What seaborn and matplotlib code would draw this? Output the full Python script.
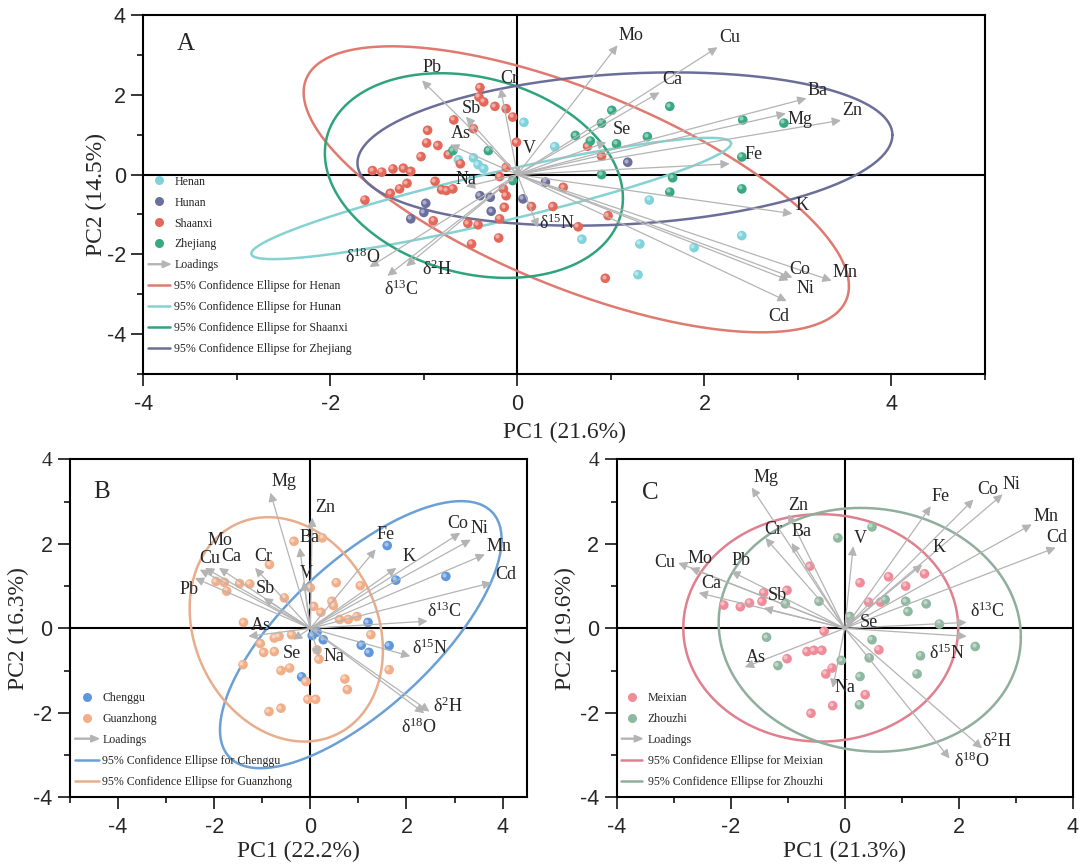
import numpy as np
import pandas as pd
import matplotlib
matplotlib.use('Agg')
import matplotlib.pyplot as plt
import matplotlib.patches as mpatches
import matplotlib.transforms as mtransforms
from matplotlib.lines import Line2D
from matplotlib.legend_handler import HandlerPatch
from matplotlib.ticker import MultipleLocator
import seaborn as sns

# ---------------- panel A : four provinces ----------------
henan_x = [0.07, 0.40, -0.63, -0.47, -0.42, -0.36, 1.41, 0.69, 1.31, 1.89, 2.40, 1.29]
henan_y = [1.31, 0.70, 0.37, 0.42, 0.25, 0.15, -0.64, -1.62, -1.74, -1.83, -1.53, -2.51]
hunan_x = [-0.98, -1.00, -1.14, -0.40, -0.29, -0.28, 0.06, 0.30, 1.18]
hunan_y = [-0.72, -0.95, -1.11, -0.53, -0.57, -0.92, -0.61, -0.19, 0.31]
shaanxi_x = [-0.40, -0.41, -0.36, -0.24, -0.12, -0.05, -0.68, -0.47, -0.96, -0.97, -0.85, -0.74,
             -1.03, -0.61, -0.01, -1.55, -1.45, -1.33, -1.22, -1.14, -1.18, -1.26, -1.36, -0.88,
             -0.81, -0.76, -0.69, -0.19, -0.12, -1.63, -0.15, -0.12, -0.14, -0.90, -0.53, -0.42,
             -0.19, -0.20, -0.49, 0.15, 0.38, 0.90, 0.75, 0.97, 0.94, 0.65, 0.49]
shaanxi_y = [2.18, 1.94, 1.82, 1.71, 1.65, 1.44, 1.37, 1.15, 1.11, 0.79, 0.73, 0.50,
             0.45, 0.27, 0.81, 0.10, 0.06, 0.14, 0.16, 0.08, -0.22, -0.36, -0.47, -0.17,
             -0.38, -0.40, -0.36, -0.05, 0.18, -0.64, -0.36, -0.53, -0.82, -1.16, -1.22, -1.26,
             -1.11, -1.59, -1.74, -0.80, -0.80, 0.46, 0.71, -1.03, -2.60, -1.31, -0.32]
zhejiang_x = [1.01, 1.63, 0.90, 0.62, 0.78, 1.06, 1.39, 2.41, 2.85, 2.40, 0.90, 1.66, 1.63, 2.40,
              -0.05, -0.69, -0.31]
zhejiang_y = [1.61, 1.71, 1.29, 0.98, 0.84, 0.77, 0.95, 1.37, 1.29, 0.44, 0.00, -0.08, -0.44, -0.36,
              -0.15, 0.60, 0.60]

load_a = ['Pb', 'Cr', 'Sb', 'As', 'Na', 'V', 'd18O', 'd13C', 'd2H', 'd15N', 'Mo', 'Cu',
          'Ca', 'Ba', 'Mg', 'Zn', 'Se', 'Fe', 'K', 'Co', 'Ni', 'Mn', 'Cd']
load_a_x = [-1.02, -0.18, -0.55, -0.72, -0.55, 0.02, -1.58, -1.39, -1.19, 0.22, 1.07, 2.14,
            1.52, 3.09, 2.87, 3.46, 0.95, 2.27, 2.94, 2.94, 2.90, 3.36, 2.88]
load_a_y = [2.36, 2.16, 1.45, 0.75, -0.30, 0.23, -2.32, -2.54, -2.30, -1.33, 3.24, 3.19,
            2.06, 1.91, 1.53, 1.36, 0.81, 0.27, -0.98, -2.58, -2.65, -2.66, -3.17]

# ellipses: centre x, centre y, var x, var y, cov xy
henan_ell = (0.63, -0.37, 8.50, 12.85, -7.08)
hunan_ell = (-0.28, -0.60, 6.58, 2.31, 3.54)
shaanxi_ell = (-0.465, -0.025, 2.54, 6.58, -0.90)
zhejiang_ell = (1.15, 0.64, 8.18, 3.69, 1.00)

# ---------------- panel B : Chenggu / Guanzhong ----------------
chenggu_x = [1.60, 1.78, 2.82, 1.20, 1.64, 1.06, 1.22, 0.27, 0.14, 0.04, -0.18]
chenggu_y = [1.96, 1.14, 1.23, 0.14, -0.41, -0.40, -0.57, -0.27, -0.09, -0.17, -1.15]
guanzhong_x = [-0.34, 0.25, -0.85, 0.00, 0.54, 1.04, 0.07, 0.22, 0.45, 0.48, 0.61, 0.79, 0.97,
               1.26, 1.64, 0.72, 0.77, -1.39, -1.04, -0.97, -0.75, -0.65, -0.39, -1.40, -0.61,
               -0.43, 0.14, 0.18, -0.09, -0.05, 0.11, -0.86, -0.61, -1.96, -1.79, -1.74, -1.47,
               -1.26, -0.54, -0.75]
guanzhong_y = [2.06, 2.14, 1.51, 0.96, 1.08, 1.01, 0.52, 0.38, 0.64, 0.54, 0.21, 0.21, 0.28,
               -0.15, -0.98, -1.20, -1.45, 0.14, -0.36, -0.57, -0.55, -0.19, -0.15, -0.86, -1.00,
               -0.94, -0.51, -0.73, -1.26, -1.68, -1.68, -1.97, -1.89, 1.11, 1.09, 0.88, 1.06,
               1.05, 0.72, -0.23]

load_b = ['Mg', 'Zn', 'Ba', 'V', 'Mo', 'Cu', 'Ca', 'Cr', 'Pb', 'Sb', 'As', 'Se', 'Na',
          'Fe', 'K', 'Co', 'Ni', 'Mn', 'Cd', 'd13C', 'd15N', 'd2H', 'd18O']
load_b_x = [-0.83, 0.04, -0.22, -0.14, -2.19, -2.30, -1.90, -1.15, -2.40, -0.97, -1.29, -0.36, 0.18,
            1.36, 1.79, 3.12, 3.34, 3.63, 3.77, 2.44, 2.08, 2.48, 2.37]
load_b_y = [3.21, 2.62, 1.91, 1.11, 1.43, 1.39, 1.43, 1.43, 1.19, 0.72, -0.19, -0.27, -0.66,
            1.87, 1.43, 2.26, 2.10, 1.75, 1.08, 0.17, -0.66, -1.97, -2.01]

chenggu_ell = (1.05, -0.15, 8.58, 9.99, 6.60)
guanzhong_ell = (-0.50, -0.025, 4.04, 7.05, -1.00)

# ---------------- panel C : Meixian / Zhouzhi ----------------
meixian_x = [-0.61, 0.27, 0.77, 1.07, 1.40, 0.42, 0.63, -1.01, -1.42, -1.45, -1.67, -1.83, -2.12,
             -0.36, -0.66, -0.54, -0.40, -1.01, -0.33, -0.22, 0.60, 0.36, -0.21, -0.59]
meixian_y = [1.47, 1.08, 1.22, 1.00, 1.29, 0.62, 0.62, 0.90, 0.84, 0.64, 0.60, 0.51, 0.55,
             -0.07, -0.55, -0.52, -0.52, -0.72, -1.08, -0.94, -0.51, -1.57, -1.83, -2.01]
zhouzhi_x = [0.48, -0.12, -0.45, -1.04, 0.71, 1.07, 1.11, 1.43, 0.09, 1.66, 2.29, 1.33, 1.27,
             0.48, 0.43, 0.27, 0.26, -0.06, -1.37, -1.17]
zhouzhi_y = [2.40, 2.14, 0.64, 0.58, 0.68, 0.64, 0.40, 0.58, 0.28, 0.10, -0.43, -0.65, -1.08,
             -0.27, -0.70, -1.14, -1.81, -0.76, -0.21, -0.88]

load_c = ['Mg', 'Zn', 'Cr', 'Ba', 'Cu', 'Mo', 'Pb', 'Ca', 'Sb', 'As', 'V', 'Se', 'Na',
          'Fe', 'Co', 'Ni', 'K', 'Mn', 'Cd', 'd13C', 'd15N', 'd2H', 'd18O']
load_c_x = [-1.63, -0.99, -1.39, -0.93, -2.92, -2.71, -1.99, -2.56, -1.42, -1.75, 0.15, 0.15, -0.21,
            1.51, 2.26, 2.77, 1.36, 3.28, 3.70, 2.14, 2.14, 2.41, 1.84]
load_c_y = [3.33, 2.70, 2.14, 2.02, 1.55, 1.43, 1.35, 0.84, 0.48, -0.92, 1.94, 0.28, -1.41,
            2.89, 3.05, 3.17, 1.51, 2.46, 1.91, 0.14, -0.19, -2.84, -3.08]

meixian_ell = (-0.42, 0.01, 5.81, 7.24, 0.00)
zhouzhi_ell = (0.44, -0.035, 7.02, 8.32, -0.45)

# label offsets (points) from the arrow tips
off_a = {'Pb': (7, 9), 'Cr': (6, 7), 'Sb': (4, 6), 'As': (8, 8), 'Na': (0, 5), 'V': (7, 12),
         'd18O': (-5, 7), 'd13C': (10, -10), 'd2H': (22, -2), 'd15N': (14, 3), 'Mo': (10, 7),
         'Cu': (9, 7), 'Ca': (9, 9), 'Ba': (8, 6), 'Mg': (10, -4), 'Zn': (8, 7), 'Se': (11, 9),
         'Fe': (17, 7), 'K': (7, 6), 'Co': (5, 6), 'Ni': (12, -6), 'Mn': (10, 6), 'Cd': (-6, -11)}
off_b = {'Mg': (10, 8), 'Zn': (9, 7), 'Ba': (7, 7), 'V': (2, 6), 'Mo': (11, 20), 'Cu': (7, 8),
         'Ca': (9, 8), 'Cr': (6, 8), 'Pb': (-4, -8), 'Sb': (1, 7), 'As': (9, 8), 'Se': (-1, -10),
         'Na': (11, 0), 'Fe': (7, 11), 'K': (9, 8), 'Co': (-2, 7), 'Ni': (6, 8), 'Mn': (10, 6),
         'Cd': (10, 6), 'd13C': (12, 7), 'd15N': (14, 6), 'd2H': (13, 4), 'd18O': (-4, -10)}
off_c = {'Mg': (10, 7), 'Zn': (7, 6), 'Cr': (6, 6), 'Ba': (7, 8), 'Cu': (-10, 0), 'Mo': (7, 7),
         'Pb': (7, 8), 'Ca': (9, 7), 'Sb': (10, 9), 'As': (8, 7), 'V': (5, 6), 'Se': (11, -4),
         'Na': (9, 0), 'Fe': (7, 7), 'Co': (10, 7), 'Ni': (6, 7), 'K': (12, 12), 'Mn': (10, 6),
         'Cd': (1, 7), 'd13C': (15, 8), 'd15N': (-14, -12), 'd2H': (11, 5), 'd18O': (16, -2)}

sns.set_theme(style='ticks')
plt.rcParams['font.family'] = ['Liberation Serif', 'DejaVu Serif']
plt.rcParams['mathtext.fontset'] = 'custom'
plt.rcParams['mathtext.rm'] = 'Liberation Serif'
plt.rcParams['mathtext.it'] = 'Liberation Serif:italic'
plt.rcParams['axes.unicode_minus'] = False

ARROW = '#b4b4b4'


def pretty(name):
    if name.startswith('d'):
        return 'δ$^{\\mathrm{%s}}$%s' % (name[1:-1], name[-1])
    return name


def arrow_handle(legend, orig_handle, xdescent, ydescent, width, height, fontsize):
    return mpatches.FancyArrow(0, height / 2, width, 0, width=0.7, head_width=height * 0.8,
                               head_length=height * 0.95, length_includes_head=True)


def draw_panel(ax, groups, xs, ys, pcols, ells, ecols, names, lx, ly, offs,
               xlim, letter, letter_xy, xlab, ylab, leg_top, leg_hl, leg_pad, xpad, ypad):
    df = pd.concat([pd.DataFrame({'PC1': x, 'PC2': y, 'group': g})
                    for g, x, y in zip(groups, xs, ys)], ignore_index=True)

    ax.axhline(0, color='black', lw=1.5, zorder=1)
    ax.axvline(0, color='black', lw=1.5, zorder=1)

    t = np.linspace(0, 2 * np.pi, 300)
    for (cx, cy, sxx, syy, sxy), col in zip(ells, ecols):
        L = np.linalg.cholesky(np.array([[sxx, sxy], [sxy, syy]]))
        pts = L @ np.vstack([np.cos(t), np.sin(t)])
        ax.plot(cx + pts[0], cy + pts[1], color=col, lw=1.8, zorder=2)

    sns.scatterplot(data=df, x='PC1', y='PC2', hue='group', palette=dict(zip(groups, pcols)),
                    s=48, edgecolor='none', legend=False, ax=ax, zorder=3)
    # small highlight so the dots look like little spheres
    shift = mtransforms.ScaledTranslation(-1.2 / 72, 1.2 / 72, ax.figure.dpi_scale_trans)
    ax.scatter(df['PC1'], df['PC2'], s=9, color='white', alpha=0.45, lw=0,
               transform=ax.transData + shift, zorder=3.1)

    for n, x, y in zip(names, lx, ly):
        ax.annotate('', xy=(x, y), xytext=(0, 0),
                    arrowprops=dict(arrowstyle='-|>', color=ARROW, lw=0.9,
                                    mutation_scale=13, shrinkA=0, shrinkB=0), zorder=4)
        ax.annotate(pretty(n), xy=(x, y), xytext=offs[n], textcoords='offset points',
                    ha='center', va='center', fontsize=13, zorder=5)

    ax.set_xlim(*xlim)
    ax.xaxis.set_major_locator(MultipleLocator(2))
    ax.xaxis.set_minor_locator(MultipleLocator(1))
    ax.yaxis.set_major_locator(MultipleLocator(2))
    ax.yaxis.set_minor_locator(MultipleLocator(1))
    ax.tick_params(which='major', direction='out', length=8.5, width=1.3, labelsize=15.5,
                   top=False, right=False)
    ax.tick_params(which='minor', direction='out', length=4.3, width=1.3, top=False, right=False)
    ax.tick_params(axis='x', pad=6)
    ax.tick_params(axis='y', pad=4)
    for lab in ax.get_xticklabels() + ax.get_yticklabels():
        lab.set_fontfamily('Liberation Sans')
    for sp in ax.spines.values():
        sp.set_visible(True)
        sp.set_linewidth(1.5)
        sp.set_color('black')
    ax.set_xlabel(xlab, fontsize=17, labelpad=xpad)
    ax.set_ylabel(ylab, fontsize=17, labelpad=ypad)
    ax.text(letter_xy[0], letter_xy[1], letter, transform=ax.transAxes, fontsize=18,
            ha='center', va='center')

    handles = [Line2D([], [], ls='none', marker='o', markersize=6.5, markerfacecolor=c,
                      markeredgecolor='none') for c in pcols]
    handles.append(mpatches.FancyArrow(0, 0, 1, 0, color=ARROW))
    handles += [Line2D([], [], color=c, lw=1.8) for c in ecols]
    labels = list(groups) + ['Loadings'] + ['95% Confidence Ellipse for ' + g for g in groups]
    ax.legend(handles, labels, loc='upper left', bbox_to_anchor=(0.0, leg_top), frameon=False,
              fontsize=8.6, handlelength=leg_hl, handletextpad=leg_pad, labelspacing=0.75,
              borderaxespad=0, borderpad=0.4,
              handler_map={mpatches.FancyArrow: HandlerPatch(patch_func=arrow_handle)})


fig = plt.figure(figsize=(10.8, 8.66), dpi=100)
ax_a = fig.add_axes([0.1327, 0.5681, 0.7793, 0.4146])
ax_b = fig.add_axes([0.0648, 0.0793, 0.4228, 0.3903])
ax_c = fig.add_axes([0.5709, 0.0793, 0.4224, 0.3903])

draw_panel(ax_a, ['Henan', 'Hunan', 'Shaanxi', 'Zhejiang'],
           [henan_x, hunan_x, shaanxi_x, zhejiang_x], [henan_y, hunan_y, shaanxi_y, zhejiang_y],
           ['#7fd3dc', '#6b6f9e', '#e4685a', '#38a981'],
           [henan_ell, hunan_ell, shaanxi_ell, zhejiang_ell],
           ['#e07a70', '#85d2d2', '#2fa47c', '#6b6f98'],
           load_a, load_a_x, load_a_y, off_a, (-4, 5), 'A', (0.05, 0.92),
           'PC1 (21.6%)', 'PC2 (14.5%)', 0.566, 1.85, 0.35, 5, 0)
ax_a.set_ylim(-5, 4)

draw_panel(ax_b, ['Chenggu', 'Guanzhong'], [chenggu_x, guanzhong_x], [chenggu_y, guanzhong_y],
           ['#5f97dd', '#f2ae88'], [chenggu_ell, guanzhong_ell], ['#6aa0d6', '#e8ad8c'],
           load_b, load_b_x, load_b_y, off_b, (-5, 4.5), 'B', (0.069, 0.904),
           'PC1 (22.2%)', 'PC2 (16.3%)', 0.326, 2.0, 0.3, 2, 3)
ax_b.set_ylim(-4, 4)

draw_panel(ax_c, ['Meixian', 'Zhouzhi'], [meixian_x, zhouzhi_x], [meixian_y, zhouzhi_y],
           ['#f08b99', '#8fb8a0'], [meixian_ell, zhouzhi_ell], ['#e0808f', '#8fae9c'],
           load_c, load_c_x, load_c_y, off_c, (-4, 4), 'C', (0.073, 0.90),
           'PC1 (21.3%)', 'PC2 (19.6%)', 0.326, 1.75, 0.44, 2, 3)
ax_c.set_ylim(-4, 4)

fig.savefig('out.png', dpi=100)
